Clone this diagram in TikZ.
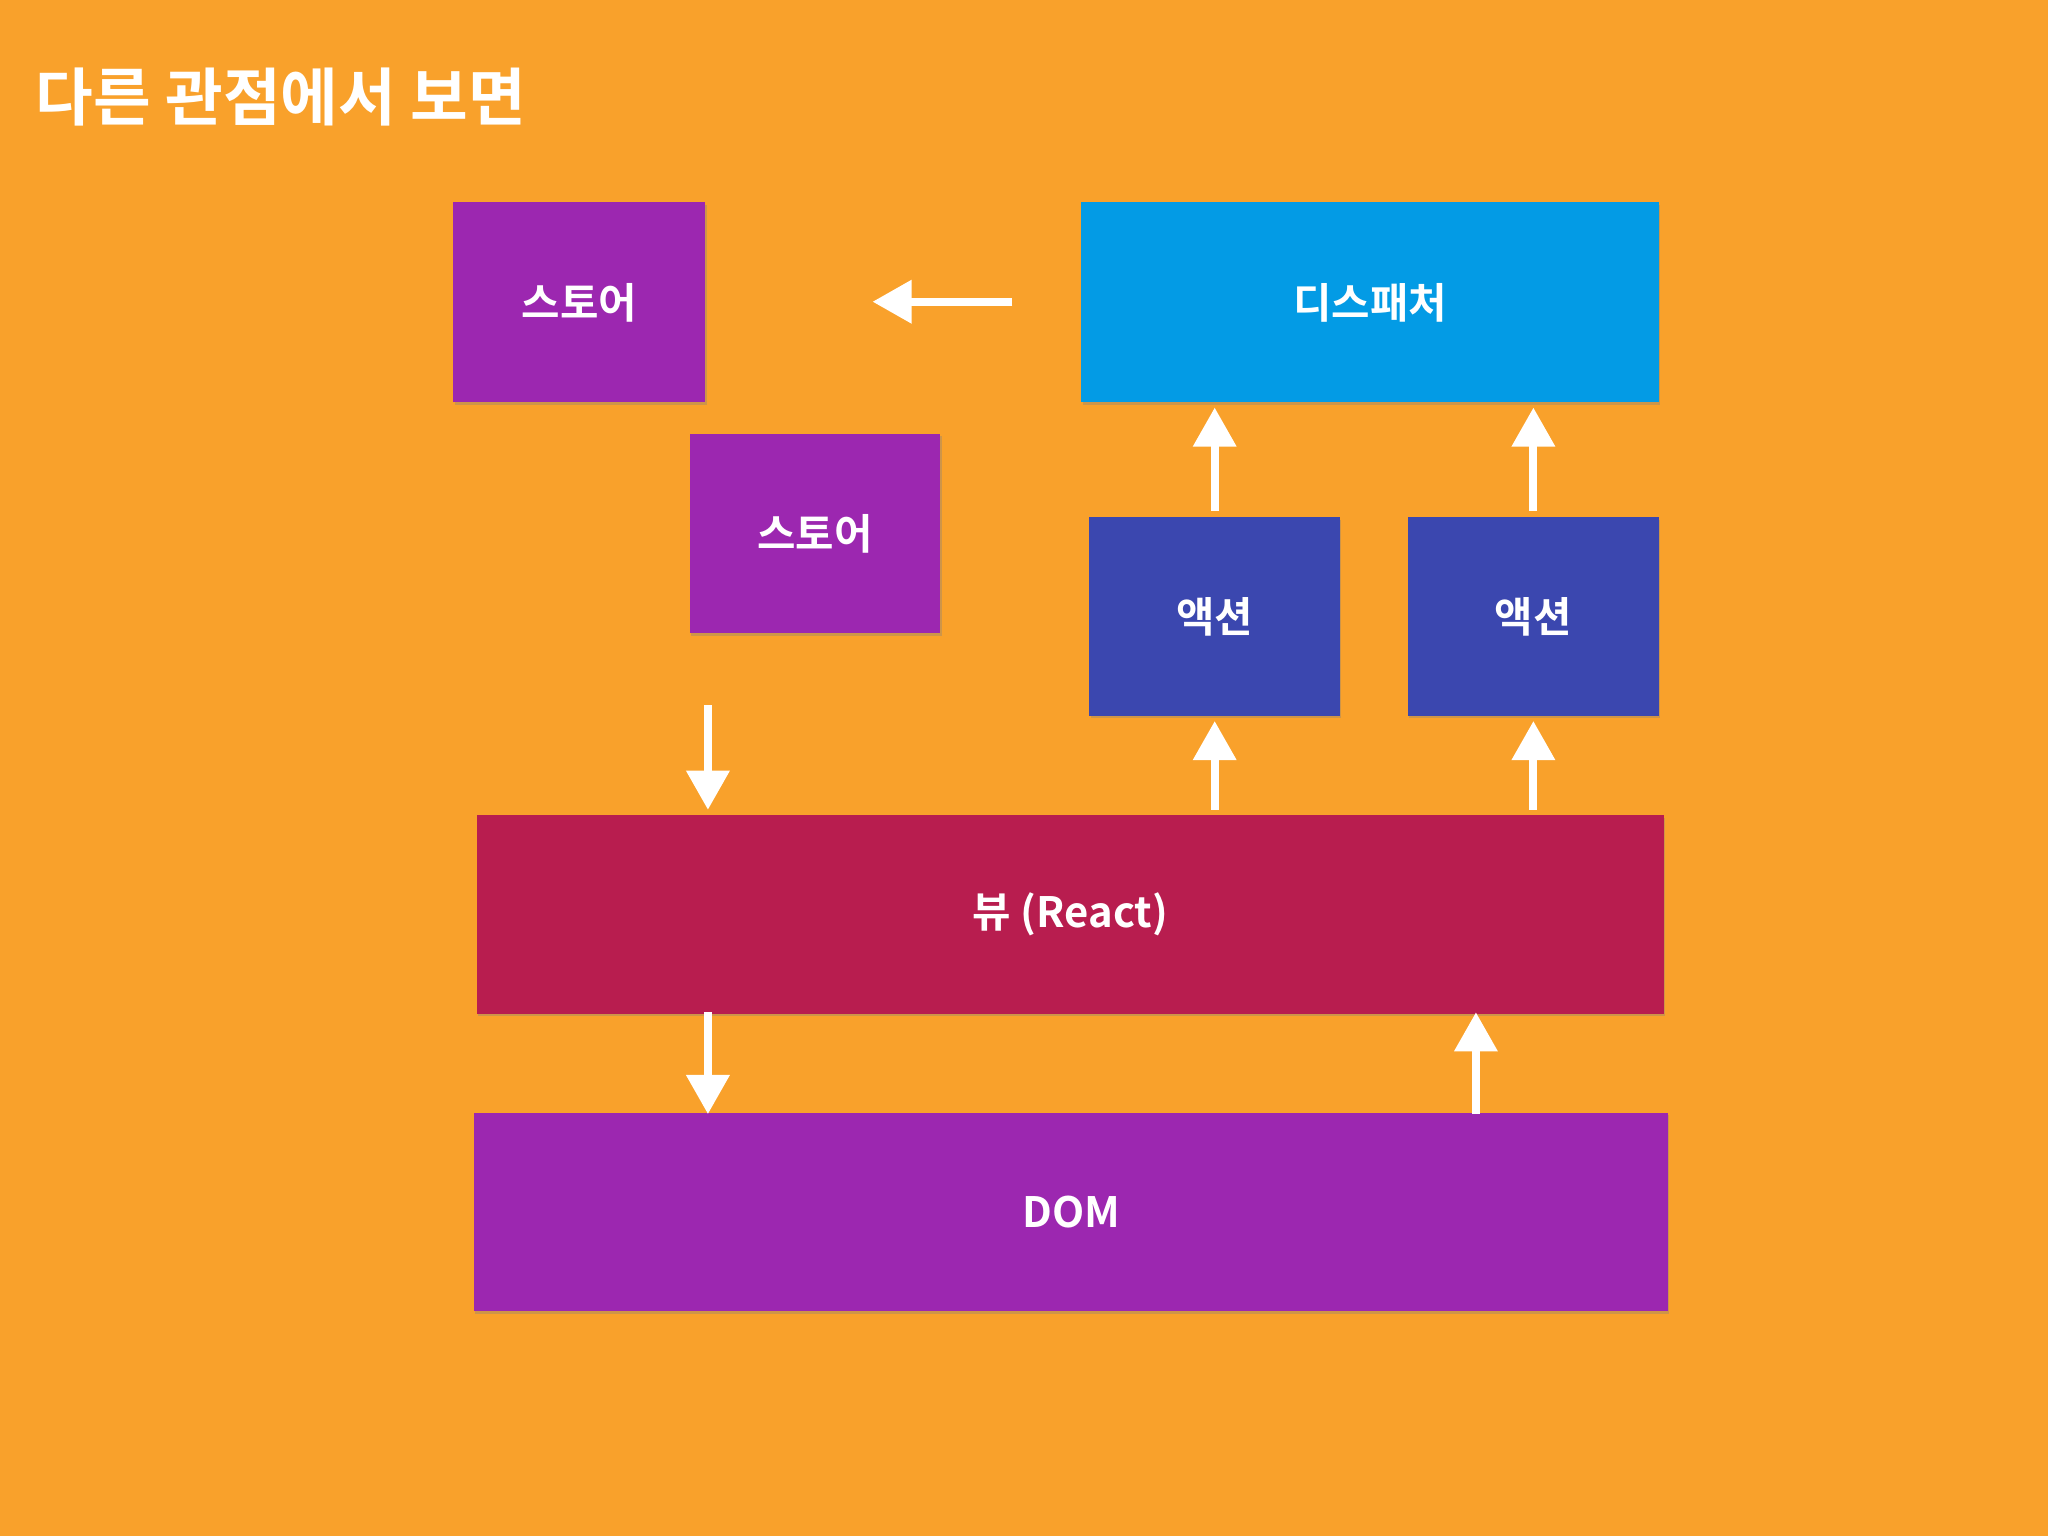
\documentclass[tikz,border=0pt]{standalone}
\usepackage{fontspec}
\setmainfont{Noto Sans CJK KR}[BoldFont={* Bold}]
\usetikzlibrary{arrows.meta,shadows}
\definecolor{bg}{HTML}{F9A12B}
\definecolor{purp}{HTML}{9C27B0}
\definecolor{blu}{HTML}{039BE5}
\definecolor{ind}{HTML}{3B47AF}
\definecolor{crim}{HTML}{B81D4F}
\begin{document}
\begin{tikzpicture}[x=1pt,y=-1pt,
  box/.style={draw=none,fill=#1,text=white,font=\fontsize{32}{36}\selectfont\bfseries,
    drop shadow={shadow xshift=1pt,shadow yshift=-2pt,opacity=0.35}},
  arr/.style={white,line width=6pt,-{Triangle[width=32pt,length=30pt]}}]
\fill[bg] (0,0) rectangle (1568,1176);
\node[anchor=west,text=white,font=\fontsize{48}{54}\selectfont\bfseries] (title) at (24,74) {다른 관점에서 보면};
\path[box=purp] (347,155) rectangle (540,308) node[midway] (s1) {스토어};
\path[box=purp] (528,332) rectangle (720,485) node[midway] (s2) {스토어};
\path[box=blu] (828,155) rectangle (1270,308) node[midway] (d) {디스패처};
\path[box=ind] (834,396) rectangle (1026,548) node[midway] (a1) {액션};
\path[box=ind] (1078,396) rectangle (1270,548) node[midway] (a2) {액션};
\path[box=crim] (365,624) rectangle (1274,776) node[midway] (v) {뷰 (React)};
\path[box=purp] (363,852) rectangle (1277,1004) node[midway] (dom) {DOM};
\coordinate (p1) at (775,231); \coordinate (p2) at (668,231);
\coordinate (p3) at (930,391); \coordinate (p4) at (930,312);
\coordinate (p5) at (1174,391); \coordinate (p6) at (1174,312);
\coordinate (p7) at (930,620); \coordinate (p8) at (930,552);
\coordinate (p9) at (1174,620); \coordinate (p10) at (1174,552);
\coordinate (p11) at (542,540); \coordinate (p12) at (542,620);
\coordinate (p13) at (542,775); \coordinate (p14) at (542,853);
\coordinate (p15) at (1130,853); \coordinate (p16) at (1130,775);
\foreach \a/\b in {p1/p2,p3/p4,p5/p6,p7/p8,p9/p10,p11/p12,p13/p14,p15/p16}
  \draw[arr] (\a) -- (\b);
\end{tikzpicture}
\end{document}
